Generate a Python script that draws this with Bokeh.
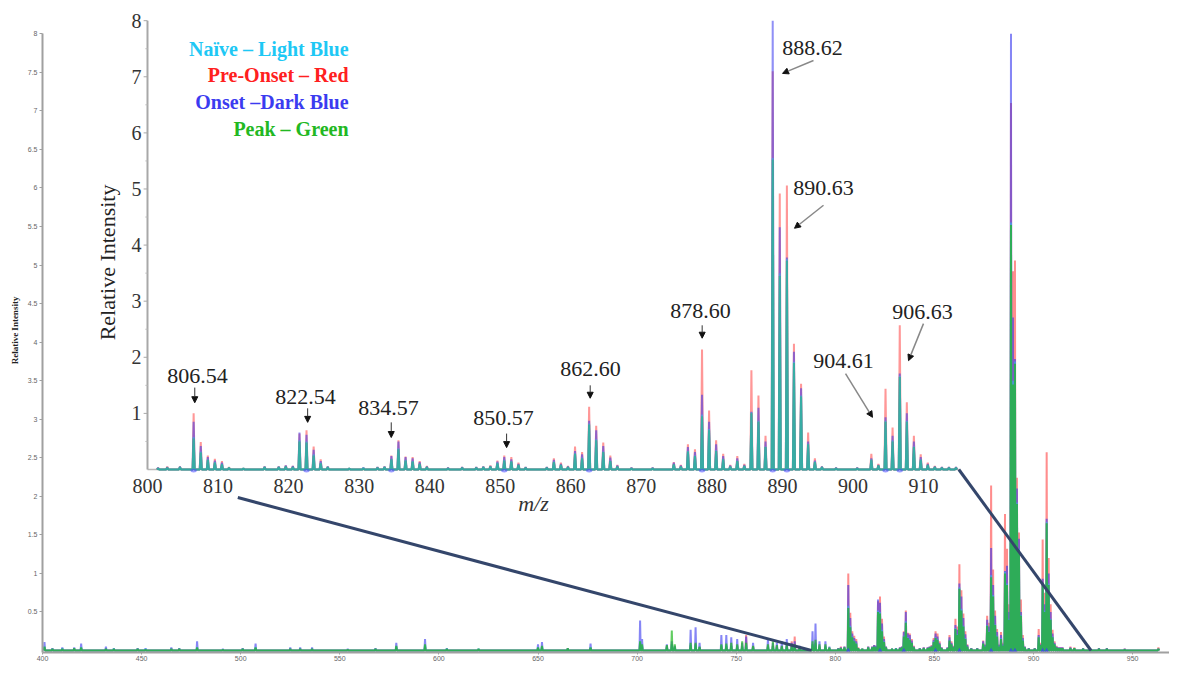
from bokeh.plotting import figure
from bokeh.models import Range1d, FixedTicker, Arrow, NormalHead
from bokeh.core.properties import value
from bokeh.embed import file_html
from bokeh.resources import INLINE

# ---------------- data (peak m/z and relative intensity per group) ----------------
mz = [
    401.0, 405.0, 410.0, 416.0, 419.5, 432.0, 436.0, 448.0, 452.0, 465.0, 469.0, 478.0,
    491.0, 501.0, 507.5, 525.0, 530.0, 536.0, 554.0, 568.0, 578.5, 593.0, 604.0, 620.0,
    650.0, 652.0, 665.0, 676.5, 701.5, 702.5, 715.0, 717.5, 719.0, 727.0, 729.5, 731.5,
    742.5, 745.0, 747.5, 750.5, 753.0, 755.0, 758.5, 766.0, 768.5, 770.5, 773.0, 775.5,
    778.0, 779.5, 782.0, 788.5, 790.0, 792.0, 795.0, 797.0,
    801.5, 802.8, 804.6, 806.54, 807.55, 808.55, 809.55, 810.55, 811.55, 813.6,
    816.6, 818.6, 819.6, 820.6, 821.54, 822.54, 823.55, 824.55, 825.55, 828.6,
    830.6, 832.6, 833.6, 834.57, 835.57, 836.58, 837.58, 838.58, 839.6, 842.6,
    844.6, 846.6, 847.6, 848.6, 849.6, 850.57, 851.57, 852.58, 853.6, 856.6,
    857.6, 858.6, 859.6, 860.6, 861.6, 862.60, 863.6, 864.6, 865.6, 866.6,
    868.6, 871.6, 874.6, 875.6, 876.6, 877.6, 878.60, 879.6, 880.6, 881.6,
    882.6, 883.6, 884.6, 885.6, 886.6, 887.6, 888.62, 889.62, 890.63, 891.63,
    892.64, 893.64, 894.6, 895.6, 897.6, 900.6, 902.6, 903.6, 904.61, 905.61,
    906.63, 907.63, 908.63, 909.6, 910.6, 911.6, 912.6, 913.6, 914.6,
    918.6, 920.6, 925.0, 933.0, 937.0, 946.0, 963.0,
]
naive = [
    0.05, 0.02, 0.03, 0.02, 0.04, 0.02, 0.02, 0.02, 0.02, 0.02, 0.02, 0.04,
    0.01, 0.02, 0.04, 0.02, 0.02, 0.02, 0.01, 0.02, 0.05, 0.07, 0.02, 0.02,
    0.04, 0.05, 0.02, 0.04, 0.12, 0.06, 0.05, 0.08, 0.04, 0.08, 0.08, 0.04,
    0.07, 0.07, 0.06, 0.06, 0.05, 0.08, 0.04, 0.05, 0.05, 0.04, 0.04, 0.05,
    0.05, 0.06, 0.03, 0.08, 0.10, 0.05, 0.05, 0.03,
    0.02, 0.03, 0.04, 0.58, 0.32, 0.18, 0.13, 0.10, 0.03, 0.02,
    0.04, 0.04, 0.05, 0.04, 0.52, 0.50, 0.27, 0.12, 0.04, 0.02,
    0.03, 0.03, 0.04, 0.19, 0.38, 0.17, 0.15, 0.10, 0.04, 0.02,
    0.03, 0.03, 0.04, 0.05, 0.12, 0.17, 0.15, 0.08, 0.03, 0.03,
    0.14, 0.08, 0.04, 0.29, 0.21, 0.82, 0.54, 0.32, 0.16, 0.05,
    0.02, 0.02, 0.09, 0.05, 0.33, 0.25, 0.98, 0.72, 0.34, 0.19,
    0.05, 0.16, 0.06, 1.02, 0.87, 0.41, 5.55, 3.50, 3.75, 1.92,
    1.32, 0.46, 0.14, 0.04, 0.02, 0.02, 0.18, 0.07, 0.87, 0.52,
    1.67, 0.87, 0.41, 0.18, 0.08, 0.04, 0.03, 0.03, 0.03,
    0.03, 0.03, 0.02, 0.02, 0.02, 0.01, 0.02,
]
pre_onset = [
    0.04, 0.02, 0.02, 0.02, 0.03, 0.02, 0.01, 0.02, 0.01, 0.02, 0.02, 0.03,
    0.01, 0.02, 0.03, 0.02, 0.02, 0.02, 0.01, 0.02, 0.04, 0.05, 0.01, 0.01,
    0.03, 0.04, 0.02, 0.03, 0.10, 0.05, 0.05, 0.08, 0.04, 0.07, 0.08, 0.04,
    0.06, 0.06, 0.06, 0.06, 0.05, 0.20, 0.05, 0.05, 0.06, 0.05, 0.05, 0.06,
    0.12, 0.18, 0.04, 0.08, 0.10, 0.05, 0.05, 0.03,
    0.03, 0.05, 0.05, 1.00, 0.49, 0.25, 0.19, 0.15, 0.04, 0.02,
    0.05, 0.05, 0.07, 0.06, 0.64, 0.70, 0.41, 0.18, 0.05, 0.02,
    0.03, 0.04, 0.05, 0.25, 0.52, 0.23, 0.22, 0.15, 0.06, 0.03,
    0.04, 0.04, 0.05, 0.07, 0.16, 0.25, 0.22, 0.12, 0.04, 0.04,
    0.20, 0.12, 0.06, 0.41, 0.31, 1.12, 0.78, 0.48, 0.25, 0.08,
    0.03, 0.03, 0.13, 0.08, 0.45, 0.36, 2.14, 1.05, 0.52, 0.28,
    0.08, 0.24, 0.10, 1.77, 1.32, 0.60, 7.10, 4.92, 5.06, 2.24,
    1.53, 0.66, 0.20, 0.05, 0.03, 0.03, 0.28, 0.10, 1.44, 0.75,
    2.57, 1.20, 0.60, 0.27, 0.12, 0.06, 0.04, 0.04, 0.04,
    0.05, 0.04, 0.03, 0.03, 0.03, 0.02, 0.04,
]
onset = [
    0.11, 0.03, 0.04, 0.04, 0.09, 0.05, 0.03, 0.03, 0.03, 0.04, 0.03, 0.12,
    0.02, 0.03, 0.09, 0.04, 0.04, 0.04, 0.02, 0.03, 0.10, 0.15, 0.03, 0.02,
    0.08, 0.11, 0.03, 0.09, 0.39, 0.15, 0.08, 0.12, 0.06, 0.27, 0.30, 0.10,
    0.20, 0.20, 0.17, 0.15, 0.10, 0.18, 0.10, 0.15, 0.10, 0.10, 0.12, 0.15,
    0.10, 0.12, 0.06, 0.25, 0.35, 0.12, 0.12, 0.05,
    0.03, 0.04, 0.05, 0.85, 0.42, 0.22, 0.16, 0.12, 0.03, 0.02,
    0.05, 0.05, 0.07, 0.06, 0.66, 0.62, 0.35, 0.15, 0.05, 0.02,
    0.03, 0.04, 0.05, 0.24, 0.50, 0.22, 0.20, 0.13, 0.05, 0.03,
    0.04, 0.04, 0.05, 0.06, 0.14, 0.22, 0.18, 0.10, 0.04, 0.04,
    0.17, 0.10, 0.05, 0.33, 0.27, 0.87, 0.70, 0.42, 0.21, 0.07,
    0.03, 0.03, 0.12, 0.07, 0.40, 0.31, 1.33, 0.85, 0.45, 0.24,
    0.07, 0.20, 0.08, 1.03, 1.10, 0.50, 8.00, 4.32, 3.78, 2.10,
    1.45, 0.50, 0.16, 0.05, 0.03, 0.03, 0.20, 0.08, 0.93, 0.60,
    1.71, 1.00, 0.50, 0.22, 0.10, 0.05, 0.04, 0.04, 0.04,
    0.04, 0.03, 0.03, 0.03, 0.03, 0.02, 0.02,
]
peak = [
    0.05, 0.02, 0.02, 0.03, 0.04, 0.02, 0.02, 0.02, 0.01, 0.02, 0.02, 0.04,
    0.01, 0.02, 0.04, 0.02, 0.02, 0.02, 0.01, 0.02, 0.06, 0.08, 0.02, 0.02,
    0.04, 0.06, 0.03, 0.04, 0.12, 0.08, 0.07, 0.26, 0.08, 0.10, 0.10, 0.05,
    0.08, 0.09, 0.10, 0.08, 0.12, 0.10, 0.06, 0.08, 0.12, 0.07, 0.06, 0.08,
    0.06, 0.08, 0.04, 0.12, 0.14, 0.08, 0.08, 0.04,
    0.02, 0.03, 0.04, 0.55, 0.30, 0.17, 0.12, 0.09, 0.03, 0.02,
    0.04, 0.04, 0.05, 0.04, 0.50, 0.48, 0.25, 0.11, 0.04, 0.02,
    0.02, 0.03, 0.04, 0.18, 0.36, 0.16, 0.14, 0.10, 0.04, 0.02,
    0.03, 0.03, 0.04, 0.05, 0.11, 0.16, 0.14, 0.08, 0.03, 0.03,
    0.13, 0.08, 0.04, 0.28, 0.20, 0.80, 0.52, 0.31, 0.15, 0.05,
    0.02, 0.02, 0.09, 0.05, 0.32, 0.24, 0.95, 0.70, 0.33, 0.18,
    0.05, 0.15, 0.06, 1.00, 0.85, 0.40, 5.52, 3.45, 3.72, 1.90,
    1.30, 0.45, 0.13, 0.04, 0.02, 0.02, 0.17, 0.07, 0.85, 0.50,
    1.65, 0.85, 0.40, 0.17, 0.08, 0.04, 0.03, 0.03, 0.03,
    0.03, 0.03, 0.02, 0.02, 0.02, 0.01, 0.02,
]
assert len(mz) == len(naive) == len(pre_onset) == len(onset) == len(peak)

annotated_mz = [806.54, 822.54, 834.57, 850.57, 862.60, 878.60, 888.62, 890.63, 904.61, 906.63]
annotated_labels = ["806.54", "822.54", "834.57", "850.57", "862.60",
                    "878.60", "888.62", "890.63", "904.61", "906.63"]
legend_labels = ["Naïve – Light Blue", "Pre-Onset – Red", "Onset –Dark Blue", "Peak – Green"]

main_x_ticks = [400, 450, 500, 550, 600, 650, 700, 750, 800, 850, 900, 950]
main_x_labels = ["400", "450", "500", "550", "600", "650", "700", "750", "800", "850", "900", "950"]
main_y_ticks = [0.5, 1, 1.5, 2, 2.5, 3, 3.5, 4, 4.5, 5, 5.5, 6, 6.5, 7, 7.5, 8]
main_y_labels = ["0.5", "1", "1.5", "2", "2.5", "3", "3.5", "4", "4.5", "5", "5.5",
                 "6", "6.5", "7", "7.5", "8"]
inset_x_ticks = [800, 810, 820, 830, 840, 850, 860, 870, 880, 890, 900, 910]
inset_x_labels = ["800", "810", "820", "830", "840", "850", "860", "870", "880", "890", "900", "910"]
inset_y_ticks = [1, 2, 3, 4, 5, 6, 7, 8]
inset_y_labels = ["1", "2", "3", "4", "5", "6", "7", "8"]

# ---------------- layout / style ----------------
W, H = 1169, 666
MAIN_X = (400, 968.6)
MAIN_Y = (-0.026, 8.327)
INSET_X = (785.117, 944.862)
INSET_Y = (-3.262, 8.217)
INSET_XMIN, INSET_XMAX = 800, 915

C_NAIVE, C_RED, C_BLUE, C_GREEN = "#1ec8f5", "#ff3030", "#3535ee", "#1fb81f"
SERIF = value("Liberation Serif")

p = figure(width=W, height=H, output_backend="svg", toolbar_location=None,
           x_range=Range1d(*MAIN_X), y_range=Range1d(*MAIN_Y),
           min_border_left=42, min_border_right=0, min_border_top=8, min_border_bottom=14)
p.extra_x_ranges = {"ix": Range1d(*INSET_X)}
p.extra_y_ranges = {"iy": Range1d(*INSET_Y)}
p.outline_line_color = None
p.grid.visible = False

ax_col = "#a0a0a0"
for ax in (p.xaxis[0], p.yaxis[0]):
    ax.axis_line_color = ax_col
    ax.axis_line_width = 2
    ax.major_tick_line_color = ax_col
    ax.major_tick_in = 0
    ax.minor_tick_line_color = None
    ax.major_label_text_font_size = "7px"
    ax.major_label_text_color = "#666666"
p.xaxis.ticker = FixedTicker(ticks=main_x_ticks)
p.xaxis.major_label_overrides = dict(zip(main_x_ticks, main_x_labels))
p.xaxis.major_tick_out = 2
p.xaxis.major_label_standoff = 1
p.yaxis.ticker = FixedTicker(ticks=main_y_ticks)
p.yaxis.major_label_overrides = dict(zip(main_y_ticks, main_y_labels))
p.yaxis.bounds = (MAIN_Y[0], main_y_ticks[-1])
p.yaxis.major_tick_out = 3
p.yaxis.major_label_standoff = 2
p.yaxis.axis_label = "Relative Intensity"
p.yaxis.axis_label_text_font = "Liberation Serif"
p.yaxis.axis_label_text_font_style = "bold"
p.yaxis.axis_label_text_font_size = "9px"
p.yaxis.axis_label_text_color = "#222222"
p.yaxis.axis_label_standoff = 5


def profile(xs, hs, half):
    px, py = [], []
    for x, h in zip(xs, hs):
        px += [x - half, x, x + half]
        py += [0.0, h, 0.0]
    return px, py


# ---------------- main spectrum ----------------
for vals, col, alpha in [(pre_onset, C_RED, 0.55), (onset, C_BLUE, 0.6),
                         (naive, C_NAIVE, 0.5), (peak, C_GREEN, 0.7)]:
    px, py = profile(mz, vals, 0.3)
    p.line(px, py, line_color=col, line_alpha=alpha, line_width=2)

p.scatter(x=annotated_mz, y=[-0.01] * len(annotated_mz), marker="triangle", size=6,
          fill_color="#3b3bff", fill_alpha=0.7, line_color=None)

# ---------------- inset ----------------
I = dict(x_range_name="ix", y_range_name="iy")
sel = [i for i, m in enumerate(mz) if INSET_XMIN <= m <= INSET_XMAX]
imz = [mz[i] for i in sel]

# axes of the inset
p.segment(x0=[INSET_XMIN], y0=[0], x1=[INSET_XMAX], y1=[0], line_color="#b8b8b8", line_width=1.5, **I)
p.segment(x0=[INSET_XMIN], y0=[0], x1=[INSET_XMIN], y1=[inset_y_ticks[-1]], line_color="#a8a8a8",
          line_width=2, **I)
p.segment(x0=[INSET_XMIN - 0.55] * len(inset_y_ticks), y0=inset_y_ticks,
          x1=[INSET_XMIN] * len(inset_y_ticks), y1=inset_y_ticks, line_color="#a8a8a8", line_width=1, **I)
minor = [t - 0.5 for t in inset_y_ticks]
p.segment(x0=[INSET_XMIN - 0.3] * len(minor), y0=minor, x1=[INSET_XMIN] * len(minor), y1=minor,
          line_color="#bbbbbb", line_width=1, **I)
p.text(x=[INSET_XMIN] * len(inset_y_ticks), y=inset_y_ticks, text=inset_y_labels, x_offset=-6,
       text_align="right", text_baseline="middle", text_font=SERIF, text_font_size="20px",
       text_color="#333333", **I)
p.text(x=inset_x_ticks, y=[0] * len(inset_x_ticks), text=inset_x_labels, y_offset=17,
       text_align="center", text_baseline="middle", text_font=SERIF, text_font_size="20px",
       text_color="#333333", **I)
p.text(x=[854.7], y=[0], text=["m/z"], y_offset=34, text_align="center", text_baseline="middle",
       text_font=SERIF, text_font_size="22px", text_font_style="italic", text_color="#333333", **I)
p.text(x=[794.4], y=[3.69], text=["Relative Intensity"], angle=1.5708, text_align="center",
       text_baseline="middle", text_font=SERIF, text_font_size="22px", text_color="#222222", **I)

for vals, col, alpha in [(pre_onset, C_RED, 0.5), (onset, C_BLUE, 0.55),
                         (peak, C_GREEN, 0.6), (naive, C_NAIVE, 0.45)]:
    px, py = profile(imz, [vals[i] for i in sel], 0.15)
    p.line(px, py, line_color=col, line_alpha=alpha, line_width=2, **I)

p.ellipse(x=annotated_mz, y=[-0.02] * len(annotated_mz), width=0.9, height=0.07,
          fill_color="#4a4aff", fill_alpha=0.55, line_color=None, **I)

# legend text
p.text(x=[828.5] * len(legend_labels), y=[7.50 - 0.476 * k for k in range(len(legend_labels))],
       text=legend_labels, text_color=[C_NAIVE, "#ff2020", "#3b3bf0", "#22b822"],
       text_align="right", text_baseline="middle", text_font=SERIF, text_font_size="20px",
       text_font_style="bold", **I)

# peak annotations (label centre, arrow start, arrow end)
ann_label_xy = [(807.09, 1.66), (822.40, 1.30), (834.16, 1.09), (850.46, 0.91), (862.79, 1.80),
                (878.38, 2.82), (894.26, 7.52), (895.82, 5.01), (898.65, 1.94), (909.85, 2.80)]
ann_arrows = [((806.70, 1.46), (806.70, 1.19)), ((822.70, 1.09), (822.70, 0.84)),
              ((834.55, 0.84), (834.55, 0.57)), ((850.90, 0.64), (850.90, 0.39)),
              ((862.75, 1.50), (862.75, 1.27)), ((878.62, 2.57), (878.62, 2.34)),
              ((894.40, 7.29), (890.01, 7.06)), ((895.82, 4.71), (891.71, 4.30)),
              ((898.94, 1.71), (902.76, 0.93)), ((909.99, 2.60), (907.87, 1.94))]
p.text(x=[a[0] for a in ann_label_xy], y=[a[1] for a in ann_label_xy], text=annotated_labels,
       text_align="center", text_baseline="middle", text_font=SERIF, text_font_size="22px",
       text_color="#222222", **I)
for k, ((xs, ys), (xe, ye)) in enumerate(ann_arrows):
    slanted = abs(xs - xe) > 0.5
    p.add_layout(Arrow(end=NormalHead(size=6, fill_color="#111111", line_color="#111111"),
                       x_start=xs, y_start=ys, x_end=xe, y_end=ye,
                       line_color="#888888" if slanted else "#333333",
                       line_width=1.5 if slanted else 1, **I))

# ---------------- zoom connector lines ----------------
def inset_to_main(x, y):
    mx = MAIN_X[0] + (x - INSET_X[0]) / (INSET_X[1] - INSET_X[0]) * (MAIN_X[1] - MAIN_X[0])
    my = MAIN_Y[0] + (y - INSET_Y[0]) / (INSET_Y[1] - INSET_Y[0]) * (MAIN_Y[1] - MAIN_Y[0])
    return mx, my

s1 = inset_to_main(812.8, -0.5)
s2 = inset_to_main(INSET_XMAX, 0)
p.segment(x0=[s1[0], s2[0]], y0=[s1[1], s2[1]], x1=[788, 929], y1=[0, 0],
          line_color="#34466b", line_width=3)

open("out.html", "w").write(file_html(p, INLINE))
